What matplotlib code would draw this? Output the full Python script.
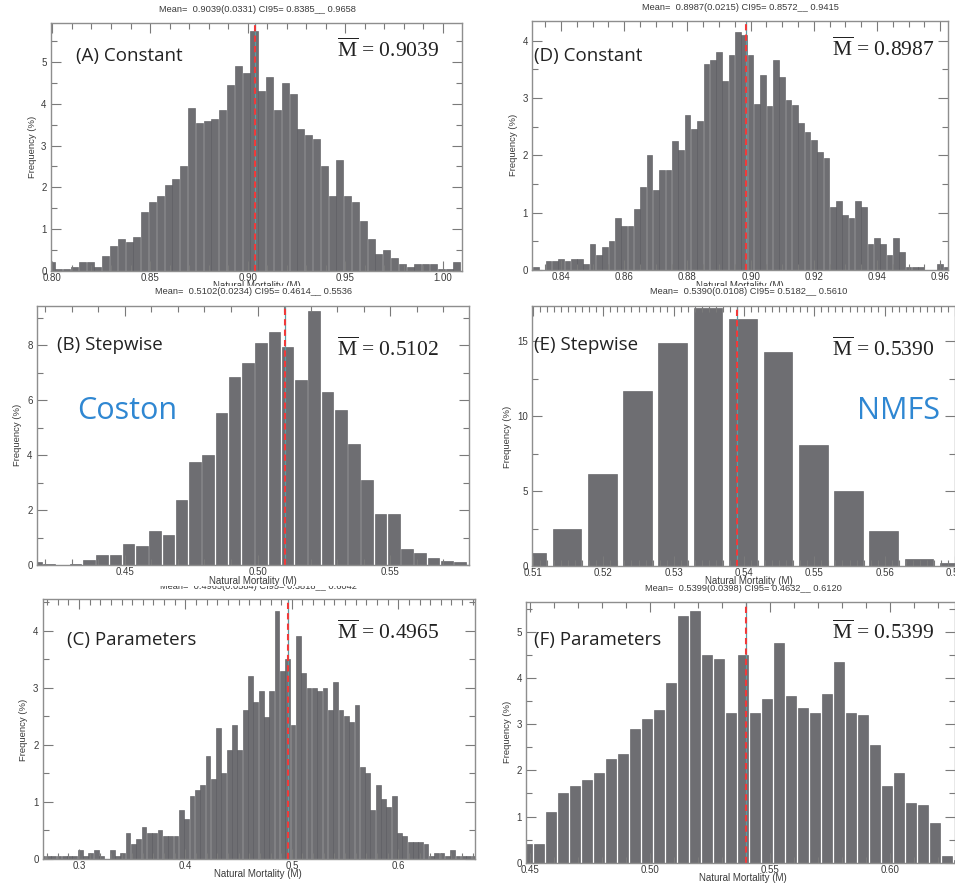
import matplotlib
matplotlib.use("Agg")
import matplotlib.pyplot as plt
from matplotlib.ticker import MultipleLocator, FormatStrFormatter
from matplotlib.transforms import Bbox, TransformedBbox

plt.rcParams["mathtext.fontset"] = "custom"
plt.rcParams["mathtext.rm"] = "Liberation Serif"

# ---------------- data ----------------
# (A) Coston - Constant
A_start, A_width, A_mean = 0.7973, 0.004, 0.9039
A_freq = [0.2, 0.05, 0.05, 0.1, 0.2, 0.2, 0.1, 0.35, 0.6, 0.75, 0.7, 0.8, 1.4, 1.65,
          1.8, 2.05, 2.2, 2.5, 3.9, 3.55, 3.6, 3.65, 3.85, 4.45, 4.9, 4.75, 5.75, 4.3,
          4.65, 3.85, 4.5, 4.25, 3.4, 3.25, 3.15, 2.5, 1.8, 2.65, 1.8, 1.65, 1.2, 0.75,
          0.4, 0.5, 0.3, 0.15, 0.1, 0.15, 0.15, 0.15, 0.05, 0.05, 0.2]
A_title = "Mean=  0.9039(0.0331) CI95= 0.8385__ 0.9658"

# (B) Coston - Stepwise
B_start, B_width, B_mean = 0.4139, 0.005, 0.5102
B_freq = [0.1, 0.05, 0, 0.05, 0.2, 0.35, 0.35, 0.75, 0.7, 1.25, 1.1, 2.35, 3.75, 4.0,
          5.55, 6.85, 7.35, 8.1, 8.5, 7.95, 6.75, 9.25, 6.3, 5.65, 4.4, 3.1, 1.85, 1.85,
          0.6, 0.45, 0.25, 0.15, 0.1]
B_title = "Mean=  0.5102(0.0234) CI95= 0.4614__ 0.5536"

# (C) Coston - Parameters
C_start, C_width, C_mean = 0.26363, 0.005, 0.4965
C_freq = [0.05, 0.05, 0.05, 0.05, 0.05, 0.05, 0.05, 0.15, 0.05, 0.1, 0.15, 0.05, 0,
          0.15, 0.05, 0.1, 0.45, 0.25, 0.35, 0.55, 0.45, 0.45, 0.5, 0.4, 0.4, 0.4, 0.85,
          0.7, 1.1, 1.2, 1.3, 1.8, 1.4, 2.3, 1.5, 1.9, 2.35, 1.9, 2.6, 3.2, 2.75, 2.95,
          2.49, 2.95, 4.35, 3.29, 3.5, 2.35, 3.9, 3.25, 3.0, 3.0, 2.95, 3.0, 2.6, 3.1,
          2.6, 2.5, 2.4, 2.7, 1.6, 1.5, 0.85, 1.3, 1.05, 0.9, 1.1, 0.45, 0.4, 0.3, 0.3,
          0.3, 0.25, 0.05, 0.1, 0.1, 0.05, 0.15, 0.05, 0.05, 0.05, 0.05]
C_title = "Mean=  0.4965(0.0584) CI95= 0.3818__ 0.6042"

# (D) NMFS - Constant
D_start, D_width, D_mean = 0.831, 0.002, 0.8987
D_freq = [0.05, 0, 0.16, 0.16, 0.2, 0.15, 0.2, 0.2, 0.1, 0.46, 0.26, 0.4, 0.5, 0.91,
          0.76, 0.76, 1.06, 1.45, 2.0, 1.4, 1.75, 1.75, 2.25, 2.1, 2.71, 2.46, 2.6, 3.6,
          3.66, 3.8, 3.3, 3.76, 4.15, 4.1, 3.76, 2.9, 3.41, 2.86, 3.66, 3.37, 2.96, 2.88,
          2.56, 2.41, 2.26, 2.06, 1.96, 1.1, 1.21, 0.96, 0.9, 1.21, 1.1, 0.45, 0.55, 0.45,
          0.26, 0.55, 0.31, 0.05, 0.05, 0.05, 0, 0, 0.1, 0.05]
D_title = "Mean=  0.8987(0.0215) CI95= 0.8572__ 0.9415"

# (E) NMFS - Stepwise
E_start, E_width, E_mean = 0.50736, 0.005, 0.5390
E_freq = [0.84, 2.44, 6.16, 11.67, 14.9, 17.18, 16.44, 14.29, 8.07, 5.02, 2.33, 0.47, 0.18]
E_title = "Mean=  0.5390(0.0108) CI95= 0.5182__ 0.5610"

# (F) NMFS - Parameters
F_start, F_width, F_mean = 0.4462, 0.005, 0.5399
F_freq = [0.4, 0.4, 1.1, 1.5, 1.65, 1.8, 1.95, 2.25, 2.35, 2.9, 3.1, 3.3, 3.9, 5.35, 5.45,
          4.5, 4.4, 3.25, 4.5, 3.25, 3.55, 4.75, 3.6, 3.35, 3.25, 3.65, 4.35, 3.25, 3.2,
          2.55, 1.65, 1.95, 1.3, 1.25, 0.85, 0.15, 0.05]
F_title = "Mean=  0.5399(0.0398) CI95= 0.4632__ 0.6120"

panel_labels = ["(A) Constant", "(B) Stepwise", "(C) Parameters",
                "(D) Constant", "(E) Stepwise", "(F) Parameters"]
source_labels = ["Coston", "NMFS"]
xlabel = "Natural Mortality (M)"
ylabel = "Frequency (%)"

# ---------------- layout (pixels) ----------------
W, H = 955, 886
fig = plt.figure(figsize=(W / 100, H / 100), dpi=100)

def fx(x):
    return x / W

def fy(y):
    return 1 - y / H

GREY_BAR = "#6e6e72"
TXT = "#3a3a3a"
SANS = "Liberation Sans"

panels = [
    dict(start=A_start, width=A_width, freq=A_freq, mean=A_mean, title=A_title,
         box=(50.7, 22.7, 462, 270.7), xlim=(0.7991, 1.0099), ylim=(0, 5.95),
         xmaj=0.05, xmin=0.01, ymaj=1, ymin=0.5, fmt="%.2f", frac=0.9,
         lab=panel_labels[0], labpos=(76, 61), mpos=(336.7, 56.7),
         tpos=(257, 10), ylpos=(32, 147)),
    dict(start=B_start, width=B_width, freq=B_freq, mean=B_mean, title=B_title,
         box=(36.7, 305.7, 469.3, 565), xlim=(0.4167, 0.5799), ylim=(0, 9.44),
         xmaj=0.05, xmin=0.01, ymaj=2, ymin=1, fmt="%.2f", frac=0.87,
         lab=panel_labels[1], labpos=(57, 350), mpos=(336.7, 355.7),
         tpos=(253, 292), ylpos=(18, 435)),
    dict(start=C_start, width=C_width, freq=C_freq, mean=C_mean, title=C_title,
         box=(42.7, 599.3, 475, 858.7), xlim=(0.2659, 0.6721), ylim=(0, 4.55),
         xmaj=0.1, xmin=0.01, ymaj=1, ymin=0.5, fmt="%.1f", frac=0.9,
         lab=panel_labels[2], labpos=(66.7, 645), mpos=(336.7, 639),
         tpos=(258, 589), ylpos=(23, 730)),
    dict(start=D_start, width=D_width, freq=D_freq, mean=D_mean, title=D_title,
         box=(532.3, 20.7, 948, 270), xlim=(0.8309, 0.9625), ylim=(0, 4.35),
         xmaj=0.02, xmin=0.005, ymaj=1, ymin=0.5, fmt="%.2f", frac=0.9,
         lab=panel_labels[3], labpos=(534, 61), mpos=(831.7, 55.7),
         tpos=(740, 7.5), ylpos=(513, 145)),
    dict(start=E_start, width=E_width, freq=E_freq, mean=E_mean, title=E_title,
         box=(532.3, 305.7, 955, 566), xlim=(0.5099, 0.5700), ylim=(0, 17.36),
         xmaj=0.01, xmin=0.001, ymaj=5, ymin=2.5, fmt="%.2f", frac=0.81,
         lab=panel_labels[4], labpos=(534, 350), mpos=(831.7, 355.7),
         tpos=(749, 292), ylpos=(508, 437)),
    dict(start=F_start, width=F_width, freq=F_freq, mean=F_mean, title=F_title,
         box=(526, 601.7, 955, 862.7), xlim=(0.4483, 0.6271), ylim=(0, 5.65),
         xmaj=0.05, xmin=0.01, ymaj=1, ymin=0.5, fmt="%.2f", frac=0.88,
         lab=panel_labels[5], labpos=(534, 645), mpos=(831.7, 639),
         tpos=(743, 591), ylpos=(508, 732)),
]


def clip_to(t, y0, y1):
    bb = Bbox.from_extents(0, fy(y1), 1, fy(y0))
    t.set_clip_box(TransformedBbox(bb, fig.transFigure))
    t.set_clip_on(True)


for i, p in enumerate(panels):
    l, t, r, b = p["box"]
    ax = fig.add_axes([fx(l), fy(b), fx(r - l), (b - t) / H])
    n = len(p["freq"])
    centers = [p["start"] + (k + 0.5) * p["width"] for k in range(n)]
    ax.bar(centers, p["freq"], width=p["width"] * p["frac"], color=GREY_BAR,
           edgecolor="#55555a", linewidth=0.4, zorder=1)
    ax.axvline(p["mean"], color="#5e9aa3", lw=0.9, zorder=1.5)
    ax.axvline(p["mean"], color="#f03a3a", lw=1.5, ls=(0, (3, 2)), zorder=1.6)
    ax.set_xlim(*p["xlim"])
    ax.set_ylim(*p["ylim"])
    ax.xaxis.set_major_locator(MultipleLocator(p["xmaj"]))
    ax.xaxis.set_minor_locator(MultipleLocator(p["xmin"]))
    ax.yaxis.set_major_locator(MultipleLocator(p["ymaj"]))
    ax.yaxis.set_minor_locator(MultipleLocator(p["ymin"]))
    ax.xaxis.set_major_formatter(FormatStrFormatter(p["fmt"]))
    ax.yaxis.set_major_formatter(FormatStrFormatter("%d"))
    for s in ax.spines.values():
        s.set_color("#8e8e8e")
        s.set_linewidth(1.0)
    ax.tick_params(which="both", direction="in", top=True, right=True,
                   color="#7a7a7a", labelcolor=TXT, labelsize=7, width=0.8)
    ax.tick_params(which="major", length=7)
    ax.tick_params(which="minor", length=4.5)
    ax.tick_params(axis="x", pad=1.5)
    ax.tick_params(axis="y", pad=3)
    for lab in ax.get_xticklabels() + ax.get_yticklabels():
        lab.set_fontfamily(SANS)

    fig.text(fx(p["labpos"][0]), fy(p["labpos"][1]), p["lab"], fontsize=13.5,
             fontfamily="Open Sans", color="#222222", va="baseline", ha="left")
    mval = "%.4f" % p["mean"]
    fig.text(fx(p["mpos"][0]), fy(p["mpos"][1]),
             r"$\overline{\mathrm{M}}$ = " + mval, fontsize=15.5,
             fontfamily="Liberation Serif", color="#222222", va="baseline", ha="left")
    fig.text(fx(p["ylpos"][0]), fy(p["ylpos"][1]), ylabel, rotation=90,
             fontsize=6.8, fontfamily=SANS, color=TXT, ha="center", va="center")
    if i == 2:
        tt = fig.text(fx(p["tpos"][0]), fy(p["tpos"][1]), p["title"], fontsize=6.7,
                      fontfamily=SANS, color=TXT, ha="center", va="baseline")
        clip_to(tt, 585.8, 598)
    elif i == 5:
        tt = fig.text(fx(p["tpos"][0]), fy(p["tpos"][1]), p["title"], fontsize=6.7,
                      fontfamily=SANS, color=TXT, ha="center", va="baseline")
        clip_to(tt, 584.5, 600)
    else:
        fig.text(fx(p["tpos"][0]), fy(p["tpos"][1]), p["title"], fontsize=6.7,
                 fontfamily=SANS, color=TXT, ha="center", va="center")

# x labels (top row partly hidden under the row below, as in the original)
for (x, y) in [(257, 281), (740, 281)]:
    tx = fig.text(fx(x), fy(y), xlabel, fontsize=7, fontfamily=SANS, color=TXT,
                  ha="center", va="top")
    clip_to(tx, 272, 285.5)
for (x, y) in [(253, 580.5), (749, 581.5), (258, 874), (743, 878)]:
    fig.text(fx(x), fy(y), xlabel, fontsize=7, fontfamily=SANS, color=TXT,
             ha="center", va="center")

fig.text(fx(76.7), fy(419), source_labels[0], fontsize=22, fontfamily="Open Sans",
         color="#2f87d2", va="baseline", ha="left")
fig.text(fx(856.7), fy(419), source_labels[1], fontsize=22, fontfamily="Open Sans",
         color="#2f87d2", va="baseline", ha="left")

fig.savefig("out.png", dpi=100, facecolor="white")
